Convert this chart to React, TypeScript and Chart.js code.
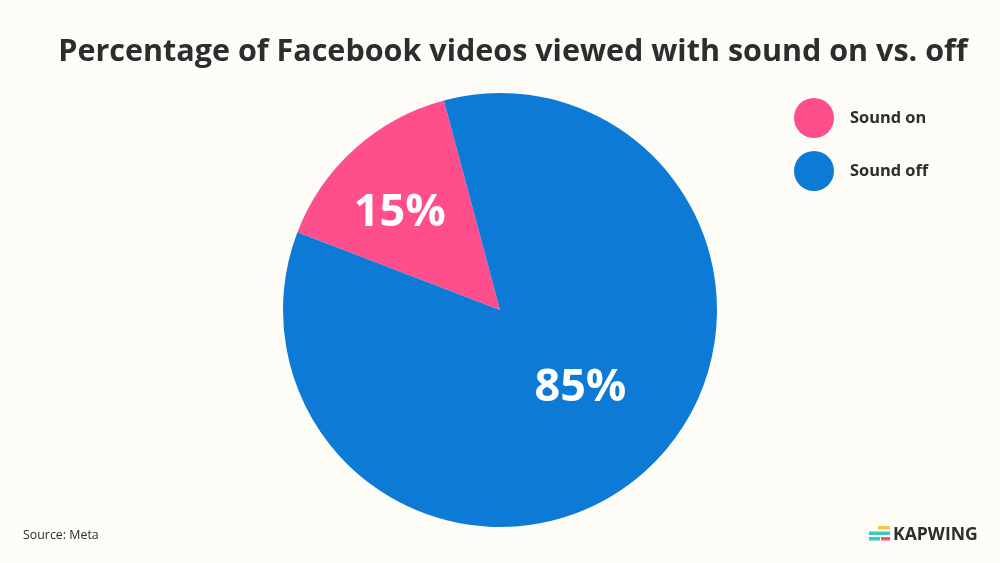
import React, { useEffect, useRef } from "react";
import { Chart, registerables } from "chart.js";

Chart.register(...registerables);

const TITLE = "Percentage of Facebook videos viewed with sound on vs. off";
const LABELS = ["Sound on", "Sound off"];
const VALUES = [15, 85];
const COLORS = ["#fe4f8c", "#0d7bd6"];
const SOURCE = "Source: Meta";
const BRAND = "KAPWING";

const FONT = "'Open Sans', 'Noto Sans', sans-serif";
const BG = "#fdfcf7";
const TEXT = "#2d2d2f";

const decorPlugin = {
  id: "decor",
  beforeDraw(chart: any) {
    const ctx = chart.ctx;
    ctx.save();
    ctx.fillStyle = BG;
    ctx.fillRect(0, 0, chart.width, chart.height);
    ctx.restore();
  },
  afterDraw(chart: any) {
    const ctx = chart.ctx;
    ctx.save();
    // title
    ctx.fillStyle = TEXT;
    ctx.font = `bold 30.5px ${FONT}`;
    ctx.textAlign = "center";
    ctx.textBaseline = "middle";
    ctx.fillText(TITLE, 513, 52);

    // legend
    const labels = chart.data.labels as string[];
    const colors = chart.data.datasets[0].backgroundColor as string[];
    labels.forEach((lab, i) => {
      const y = 118 + i * 53;
      ctx.beginPath();
      ctx.fillStyle = colors[i];
      ctx.arc(814, y, 20, 0, Math.PI * 2);
      ctx.fill();
      ctx.fillStyle = TEXT;
      ctx.font = `bold 16.4px ${FONT}`;
      ctx.textAlign = "left";
      ctx.textBaseline = "middle";
      ctx.fillText(lab, 850, y);
    });

    // slice labels
    const meta = chart.getDatasetMeta(0);
    const fracs = [0.65, 0.51];
    const tweak = [-3.25, -4.6];
    const data = chart.data.datasets[0].data as number[];
    meta.data.forEach((arc: any, i: number) => {
      const p = arc.getProps(["x", "y", "startAngle", "endAngle", "outerRadius"], true);
      const mid = (p.startAngle + p.endAngle) / 2 + (tweak[i] * Math.PI) / 180;
      const r = p.outerRadius * fracs[i];
      ctx.fillStyle = "#ffffff";
      ctx.font = `bold 45px ${FONT}`;
      ctx.textAlign = "center";
      ctx.textBaseline = "middle";
      ctx.fillText(`${data[i]}%`, p.x + Math.cos(mid) * r, p.y + Math.sin(mid) * r + 2);
    });

    // source
    ctx.fillStyle = TEXT;
    ctx.font = `12.4px ${FONT}`;
    ctx.textAlign = "left";
    ctx.fillText(SOURCE, 23, 535);

    // brand logo
    ctx.fillStyle = "#f6c945";
    ctx.fillRect(878, 526, 12, 3.5);
    ctx.fillStyle = "#3cc7c7";
    ctx.fillRect(869, 531.5, 21, 3.5);
    ctx.fillRect(869, 537, 11, 3.5);
    ctx.fillStyle = "#f6527f";
    ctx.fillRect(881, 537, 9, 3.5);
    ctx.fillStyle = TEXT;
    ctx.font = `bold 17.6px ${FONT}`;
    ctx.textAlign = "left";
    ctx.fillText(BRAND, 893, 535);
    ctx.restore();
  },
};

export default function App() {
  const ref = useRef<HTMLCanvasElement>(null);
  useEffect(() => {
    if (!ref.current) return;
    const chart = new Chart(ref.current, {
      type: "pie",
      data: {
        labels: LABELS,
        datasets: [
          {
            data: VALUES,
            backgroundColor: COLORS,
            borderWidth: 0,
          },
        ],
      },
      options: {
        responsive: false,
        animation: false,
        rotation: -69,
        layout: { padding: { top: 93, bottom: 36, left: 283, right: 283 } },
        plugins: {
          legend: { display: false },
          title: { display: false },
          tooltip: { enabled: false },
        },
      },
      plugins: [decorPlugin],
    });
    return () => chart.destroy();
  }, []);
  return (
    <div style={{ position: "fixed", left: 0, top: 0, width: 1000, height: 563, background: BG }}>
      <canvas ref={ref} width={1000} height={563} style={{ display: "block" }} />
    </div>
  );
}
